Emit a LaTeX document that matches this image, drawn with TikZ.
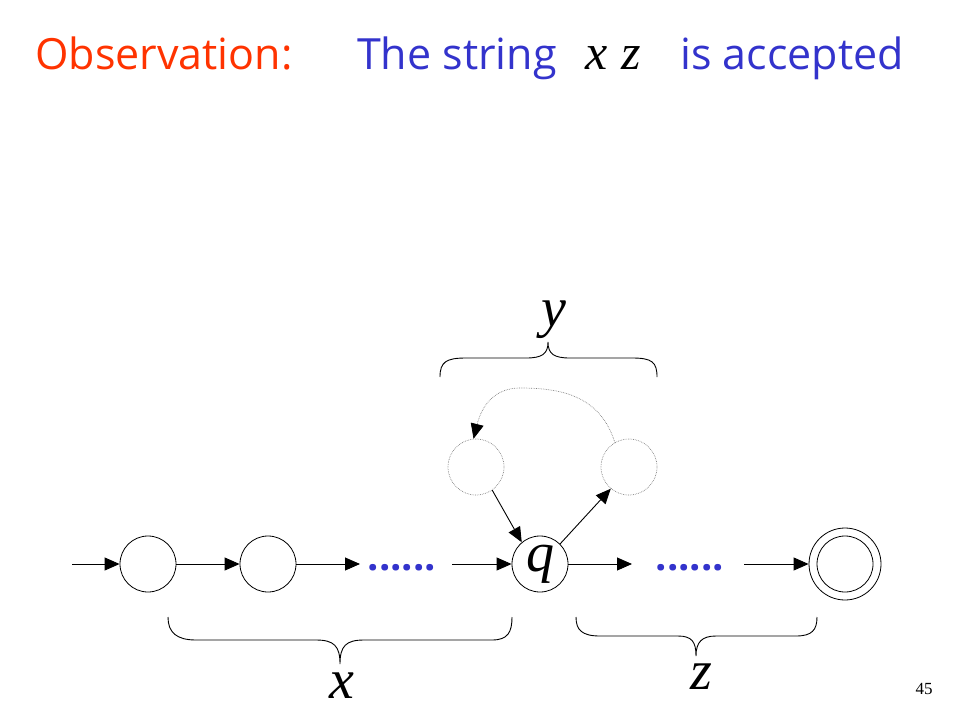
\documentclass[tikz,border=0pt]{standalone}
\usepackage{fontspec}
\setmainfont{Liberation Serif}
\newfontfamily\titlefont{Open Sans}
\usetikzlibrary{arrows.meta}
\definecolor{obsred}{RGB}{255,51,0}
\definecolor{tblue}{RGB}{51,51,204}
\begin{document}
\begin{tikzpicture}[x=1pt,y=-1pt,
  st/.style={circle,draw,line width=0.8pt,minimum size=56pt,inner sep=0pt},
  ghost/.style={circle,draw=gray,densely dotted,line width=0.7pt,minimum size=56pt,inner sep=0pt},
  arr/.style={-{Triangle[length=15pt,width=13pt]},line width=0.9pt},
  brace/.style={line width=0.9pt},
  ttl/.style={anchor=base west,font=\titlefont\fontsize{43}{48}\selectfont,inner sep=0pt},
  dots/.style={text=tblue,font=\titlefont\fontsize{40}{44}\selectfont\bfseries,inner sep=0pt,anchor=base},
  lbl/.style={font=\fontsize{56}{60}\selectfont\itshape,inner sep=0pt}]
\useasboundingbox (0,0) rectangle (960,720);
% title
\node[ttl,text=obsred] (obs) at (35,69) {Observation:};
\node[ttl,text=tblue] (str) at (357,69) {The string};
\node[anchor=base,font=\fontsize{50}{54}\selectfont\itshape,inner sep=0pt] (xz) at (613,69) {x\hspace{14pt}z};
\node[ttl,text=tblue] (acc) at (680,69) {is accepted};
% states
\coordinate (start) at (72,564);
\node[st] (s1) at (148,564) {};
\node[st] (s2) at (268,564) {};
\node[dots] (d1) at (402,570) {......};
\node[st,font=\fontsize{56}{60}\selectfont\itshape] (q) at (540,564) {q};
\node[dots] (d2) at (690,570) {......};
\node[st,minimum size=72pt] (f) at (845,564) {};
\node[st] (fin) at (845,564) {};
\node[ghost] (g1) at (476,467) {};
\node[ghost] (g2) at (629,467) {};
\coordinate (a3) at (360,564);
\coordinate (a4) at (452,564);
\coordinate (a5) at (632,564);
\coordinate (a6) at (744,564);
% arrows
\draw[arr] (start) -- (s1.west);
\draw[arr] (s1.east) -- (s2.west);
\draw[arr] (s2.east) -- (a3);
\draw[arr] (a4) -- (q.west);
\draw[arr] (q.east) -- (a5);
\draw[arr] (a6) -- (f.west);
\draw[arr] (g1.-55) -- (q.130);
\draw[arr] (q.45) -- (g2.-130);
\draw[-{Triangle[length=15pt,width=13pt,color=black]},draw=gray,densely dotted,line width=0.7pt] (g2.120) .. controls (600,395) and (560,388) .. (520,388) .. controls (495,388) and (482,405) .. (g1.95);
% braces
\draw[brace] (440,377) .. controls (440,362) and (446,358) .. (466,358) -- (526,358) .. controls (542,358) and (548,354) .. (548,342) .. controls (548,354) and (554,358) .. (570,358) -- (632,358) .. controls (652,358) and (657,362) .. (657,377);
\draw[brace] (168,617) .. controls (168,632) and (176,640) .. (196,640) -- (316,640) .. controls (334,640) and (340,646) .. (340,664) .. controls (340,646) and (346,640) .. (364,640) -- (492,640) .. controls (508,640) and (512,632) .. (512,617);
\draw[brace] (576,617) .. controls (576,630) and (582,636) .. (600,636) -- (678,636) .. controls (692,636) and (696,642) .. (696,656) .. controls (696,642) and (702,636) .. (716,636) -- (796,636) .. controls (812,636) and (817,630) .. (817,617);
% labels
\node[lbl,anchor=base] (ly) at (554,326) {y};
\node[lbl,anchor=base] (lx) at (342,698) {x};
\node[lbl,anchor=base] (lz) at (701,689) {z};
\node[anchor=base,font=\fontsize{17}{20}\selectfont,inner sep=0pt] (num) at (924,694) {45};
\end{tikzpicture}
\end{document}
